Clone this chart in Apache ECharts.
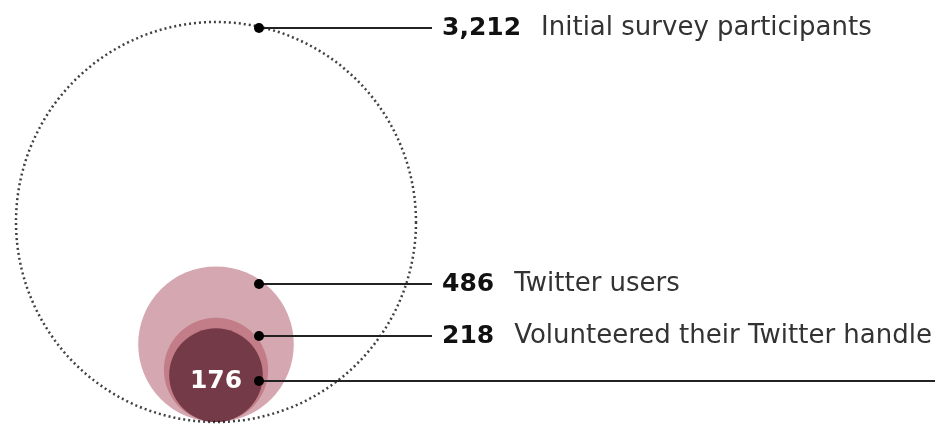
<!DOCTYPE html>
<html>
<head>
<meta charset="utf-8">
<script src="https://cdn.jsdelivr.net/npm/echarts@6/dist/echarts.min.js"></script>
<style>
  html, body { margin: 0; padding: 0; background: #fff; }
  #chart { width: 935px; height: 425px; }
</style>
</head>
<body>
<div id="chart"></div>
<script>
// survey funnel: circle area ~ count
var counts = [3212, 486, 218, 176];
var countLabels = ["3,212", "486", "218", "176"];
var descriptions = ["Initial survey participants", "Twitter users", "Volunteered their Twitter handle", ""];
var fills = ["rgba(0,0,0,0)", "#d5a7b0", "#c27d88", "#743a47"];

// layout (pixels)
var W = 935, H = 425;
var maxR = 200;          // radius of the biggest circle
var centerX = 216;
var baseY = 422;         // circles sit on this line
var rowY = [28, 284, 336, 381];
var dotX = 259;
var lineEnd = [432, 432, 432, 935];

var myChart = echarts.init(document.getElementById("chart"));

function radius(v) {
  return maxR * Math.sqrt(v / counts[0]);
}

var series = [];

// circles, biggest first; the dotted outline goes on top
counts.forEach(function (v, i) {
  var r = radius(v);
  var dotted = i == 0;
  series.push({
    type: "scatter",
    z: dotted ? 5 : 2 + i * 0.1,
    silent: true,
    symbol: "circle",
    symbolSize: r * 2,
    itemStyle: dotted ? {
      color: fills[i],
      borderColor: "#111",
      borderWidth: 2.5,
      borderType: [2, 3]
    } : { color: fills[i], opacity: 1 },
    label: {
      show: i == counts.length - 1,
      position: "inside",
      offset: [0, 6],
      formatter: countLabels[i],
      color: "#fff",
      fontFamily: "DejaVu Sans",
      fontWeight: "bold",
      fontSize: 25
    },
    data: [[centerX, baseY - r]]
  });
});

// leader lines with a dot and the label
counts.forEach(function (v, i) {
  var hasText = descriptions[i] != "";
  series.push({
    type: "line",
    z: 6,
    silent: true,
    lineStyle: { color: "#222", width: 2 },
    endLabel: {
      show: hasText,
      distance: 10,
      formatter: "{b|" + countLabels[i] + "}{d|" + descriptions[i] + "}",
      rich: {
        b: { fontFamily: "DejaVu Sans", fontWeight: "bold", fontSize: 25, color: "#111", padding: [0, 20, 0, 0] },
        d: { fontFamily: "DejaVu Sans", fontSize: 26, color: "#333" }
      }
    },
    data: [
      { value: [dotX, rowY[i]], symbol: "circle", symbolSize: 10, itemStyle: { color: "#000" } },
      { value: [lineEnd[i], rowY[i]], symbol: "none" }
    ]
  });
});

myChart.setOption({
  animation: false,
  grid: { left: 0, right: 0, top: 0, bottom: 0 },
  xAxis: { type: "value", min: 0, max: W, show: false },
  yAxis: { type: "value", min: 0, max: H, inverse: true, show: false },
  series: series
});
</script>
</body>
</html>
